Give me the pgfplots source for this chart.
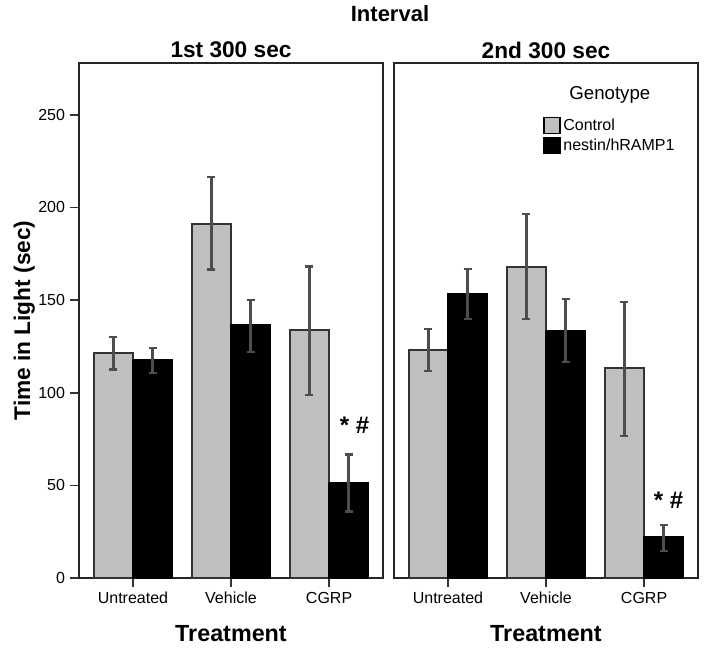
\documentclass[border=0pt]{standalone}
\usepackage{pgfplots}
\pgfplotsset{compat=1.18}
\usepackage{fontspec}
\setmainfont{Liberation Sans}

\definecolor{ctrlgray}{HTML}{C0C0C0}
\definecolor{edgegray}{HTML}{333333}
\definecolor{errgray}{HTML}{4D4D4D}

\pgfplotsset{
  panel/.style={
    scale only axis,
    width=228pt, height=386.25pt,
    ymin=0, ymax=278,
    xmin=-0.55, xmax=2.55,
    ybar, bar width=0.4,
    axis line style={line width=1.4pt, black!85},
    tick align=outside,
    major tick length=7pt,
    tick style={line width=1.2pt, black!80},
    xtick={0,1,2},
    xticklabels={Untreated,Vehicle,CGRP},
    xtick pos=left, ytick pos=left,
    tick label style={font=\fontsize{12}{14}\selectfont},
    /pgf/number format/assume math mode=true,
    title style={at={(axis description cs:0.5,1.0095)}, anchor=center,
      font=\fontsize{17}{20}\selectfont\bfseries},
    xlabel style={at={(axis description cs:0.5,-0.107)}, anchor=center,
      font=\fontsize{17.5}{20}\selectfont\bfseries},
    xlabel={Treatment},
  },
  ctrlbar/.style={fill=ctrlgray, draw=edgegray, line width=1.3pt, bar shift=-0.2,
    legend image code/.code={\draw[fill=ctrlgray, draw=black, line width=1.1pt] (0pt,-6pt) rectangle (12pt,6pt);},
    error bars/.cd, y dir=both, y explicit,
    error bar style={line width=1.8pt, errgray},
    error mark options={rotate=90, mark size=3pt, line width=1.8pt, errgray}},
  nestbar/.style={fill=black, draw=black, line width=1.3pt, bar shift=0.2,
    legend image code/.code={\draw[fill=black, draw=black, line width=1.1pt] (0pt,-6pt) rectangle (12pt,6pt);},
    error bars/.cd, y dir=both, y explicit,
    error bar style={line width=1.8pt, errgray},
    error mark options={rotate=90, mark size=3pt, line width=1.8pt, errgray}},
}

\begin{document}
\begin{tikzpicture}
\path[use as bounding box] (0,0) rectangle (528.75pt,492pt);
\node[font=\fontsize{16.5}{20}\selectfont\bfseries] at (292.5pt,481.5pt) {Interval};

% 1st 300 sec
\begin{axis}[panel,
  at={(59.25pt,58.5pt)}, anchor=south west,
  title={1st 300 sec},
  ytick={0,50,100,150,200,250},
  ylabel={Time in Light (sec)},
  ylabel style={at={(axis description cs:-0.18,0.5)}, anchor=center,
    font=\fontsize{17}{20}\selectfont\bfseries},
]
\addplot[ctrlbar] coordinates {
  (0,121.5) += (0,8.7) -= (0,9.0)
  (1,191.0) += (0,25.4) -= (0,24.5)
  (2,134.0) += (0,34.1) -= (0,35.3)
};
\addplot[nestbar] coordinates {
  (0,117.5) += (0,6.7) -= (0,6.9)
  (1,136.5) += (0,13.7) -= (0,14.5)
  (2,51.5) += (0,15.2) -= (0,15.7)
};
\node[font=\fontsize{18}{20}\selectfont\bfseries] at (axis cs:2.26,82.6) {* \#};
\end{axis}

% 2nd 300 sec
\begin{axis}[panel,
  at={(295.5pt,58.5pt)}, anchor=south west,
  title={2nd 300 sec},
  ytick=\empty,
  legend style={at={(axis description cs:0.49,0.898)}, anchor=north west,
    draw=none, fill=none, inner sep=0pt,
    font=\fontsize{12}{14}\selectfont, row sep=1pt},
  legend cell align=left,
]
\addplot[ctrlbar] coordinates {
  (0,123.0) += (0,11.4) -= (0,11.2)
  (1,168.0) += (0,28.5) -= (0,28.2)
  (2,113.4) += (0,35.6) -= (0,36.7)
};
\addlegendentry{Control}
\addplot[nestbar] coordinates {
  (0,153.3) += (0,13.5) -= (0,13.5)
  (1,133.4) += (0,17.2) -= (0,16.8)
  (2,22.1) += (0,6.5) -= (0,7.5)
};
\addlegendentry{nestin/hRAMP1}
\node[font=\fontsize{14}{16}\selectfont] at (axis description cs:0.71,0.938) {Genotype};
\node[font=\fontsize{18}{20}\selectfont\bfseries] at (axis cs:2.25,42) {* \#};
\end{axis}
\end{tikzpicture}
\end{document}
